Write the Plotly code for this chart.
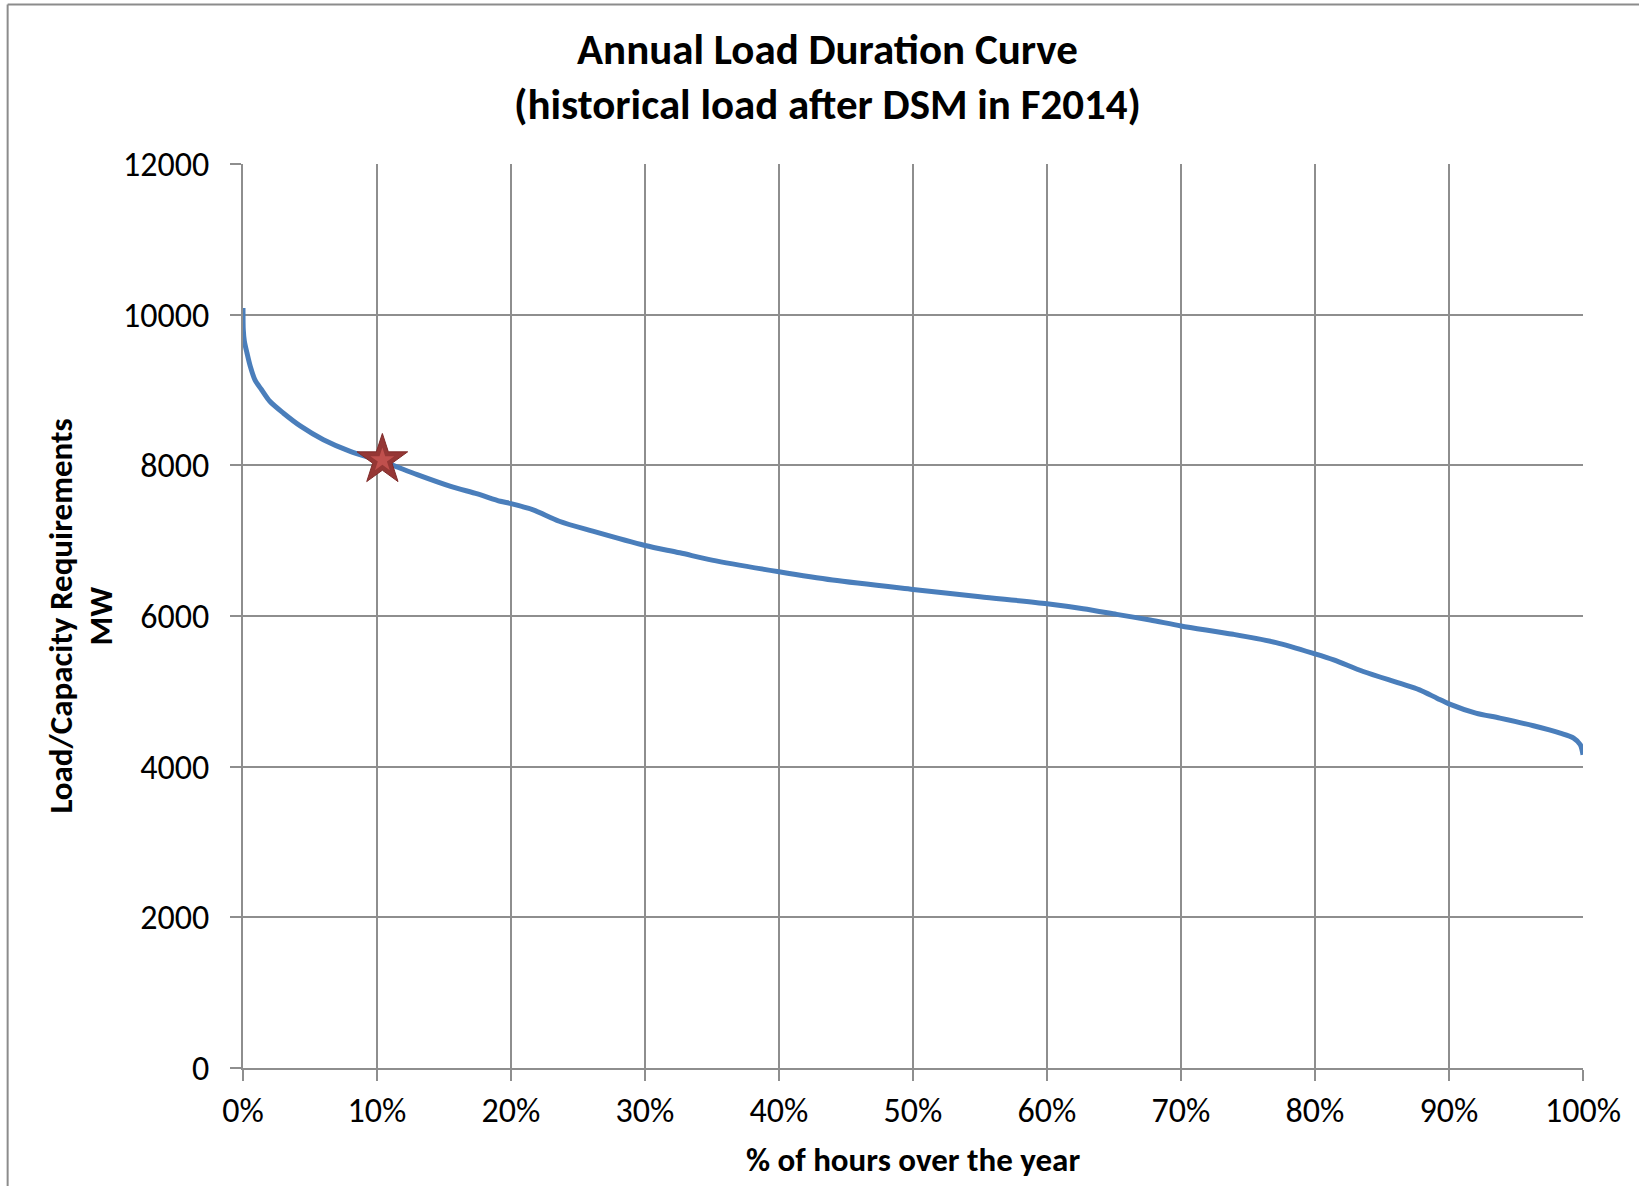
import plotly.graph_objects as go

# ---- data ----
pct_hours = [0, 0.02, 0.1, 0.3, 0.55, 0.9, 1.4, 2.0, 3.0, 4.3, 6.0, 8.0, 10.4, 13.0,
             15.5, 17.5, 19.2, 20.0, 21.6, 23.6, 26.1, 30.0, 32.6, 35.0, 40.0, 44.0,
             50.0, 55.0, 60.0, 62.7, 65.2, 67.7, 70.0, 73.9, 77.1, 80.0, 81.4, 83.6,
             86.3, 87.8, 89.1, 90.0, 92.0, 93.8, 96.3, 98.3, 99.3, 99.8, 100.0]
load_mw = [10090, 9800, 9650, 9490, 9310, 9130, 9000, 8850, 8695, 8520, 8340, 8186,
           8053, 7876, 7720, 7620, 7523, 7492, 7413, 7258, 7126, 6936, 6839, 6742,
           6587, 6477, 6353, 6256, 6163, 6097, 6022, 5947, 5868, 5757, 5647, 5497,
           5417, 5263, 5108, 5020, 4909, 4834, 4711, 4645, 4543, 4446, 4380, 4291, 4159]
star_pct = [10.4]
star_mw = [8070]
x_ticks = [0, 10, 20, 30, 40, 50, 60, 70, 80, 90, 100]
y_ticks = [0, 2000, 4000, 6000, 8000, 10000, 12000]

W, H = 1639, 1186
ML, MR, MT, MB = 242.5, 55.7, 164, 118
PW, PH = W - ML - MR, H - MT - MB

FONT = "Calibri, Carlito, Lato, sans-serif"
GRID = "#8E8E8E"

fig = go.Figure()
fig.add_trace(go.Scatter(x=pct_hours, y=load_mw, mode="lines",
                         line=dict(color="#4A7EBB", width=5, shape="spline", smoothing=0.8),
                         showlegend=False, hoverinfo="skip"))
fig.add_trace(go.Scatter(x=star_pct, y=star_mw, mode="markers",
                         marker=dict(symbol="star", size=38, color="#953735",
                                     line=dict(color="#7F2B29", width=1)),
                         showlegend=False))
fig.add_trace(go.Scatter(x=star_pct, y=star_mw, mode="markers",
                         marker=dict(symbol="star", size=18, color="#C0504D",
                                     line=dict(width=0)),
                         showlegend=False))

def px2x(px):
    return (px - ML) / PW

def px2y(py):
    return (H - MB - py) / PH

fig.update_layout(
    width=W, height=H,
    margin=dict(l=ML, r=MR, t=MT, b=MB, autoexpand=False),
    paper_bgcolor="white", plot_bgcolor="white",
    font=dict(family=FONT, color="black"),
    xaxis=dict(range=[0, 100], tickvals=x_ticks, ticktext=[f"{v}%" for v in x_ticks],
               showgrid=True, gridcolor=GRID, gridwidth=2, zeroline=False,
               showline=True, linecolor=GRID, linewidth=2,
               ticks="outside", ticklen=11, tickwidth=2, tickcolor=GRID,
               tickfont=dict(size=34, family=FONT), ticklabelstandoff=0),
    yaxis=dict(range=[0, 12000], tickvals=y_ticks, tickformat="d",
               showgrid=True, gridcolor=GRID, gridwidth=2, zeroline=False,
               showline=True, linecolor=GRID, linewidth=2,
               ticks="outside", ticklen=11, tickwidth=2, tickcolor=GRID,
               tickfont=dict(size=34, family=FONT), ticklabelstandoff=14),
    annotations=[
        dict(text="<b>Annual Load Duration Curve</b>", x=px2x(827), y=px2y(50),
             xref="paper", yref="paper", showarrow=False,
             font=dict(size=43, family=FONT), xanchor="center", yanchor="middle"),
        dict(text="<b>(historical load after DSM in F2014)</b>", x=px2x(827), y=px2y(104),
             xref="paper", yref="paper", showarrow=False,
             font=dict(size=43, family=FONT), xanchor="center", yanchor="middle"),
        dict(text="<b>Load/Capacity Requirements</b>", x=px2x(60), y=px2y(616),
             xref="paper", yref="paper", showarrow=False, textangle=-90,
             font=dict(size=33, family=FONT), xanchor="center", yanchor="middle"),
        dict(text="<b>MW</b>", x=px2x(100), y=px2y(616),
             xref="paper", yref="paper", showarrow=False, textangle=-90,
             font=dict(size=33, family=FONT), xanchor="center", yanchor="middle"),
        dict(text="<b>% of hours over the year</b>", x=px2x(913), y=px2y(1160),
             xref="paper", yref="paper", showarrow=False,
             font=dict(size=33, family=FONT), xanchor="center", yanchor="middle"),
    ],
    shapes=[
        dict(type="line", xref="paper", yref="paper", x0=px2x(7), x1=px2x(W + 5),
             y0=px2y(4.5), y1=px2y(4.5), line=dict(color="#8C8C8C", width=2)),
        dict(type="line", xref="paper", yref="paper", x0=px2x(7), x1=px2x(7),
             y0=px2y(4.5), y1=px2y(H + 5), line=dict(color="#8C8C8C", width=2)),
    ],
)

fig.write_html("out.html", config={"displayModeBar": False},
               post_script="document.body.style.margin='0';")
